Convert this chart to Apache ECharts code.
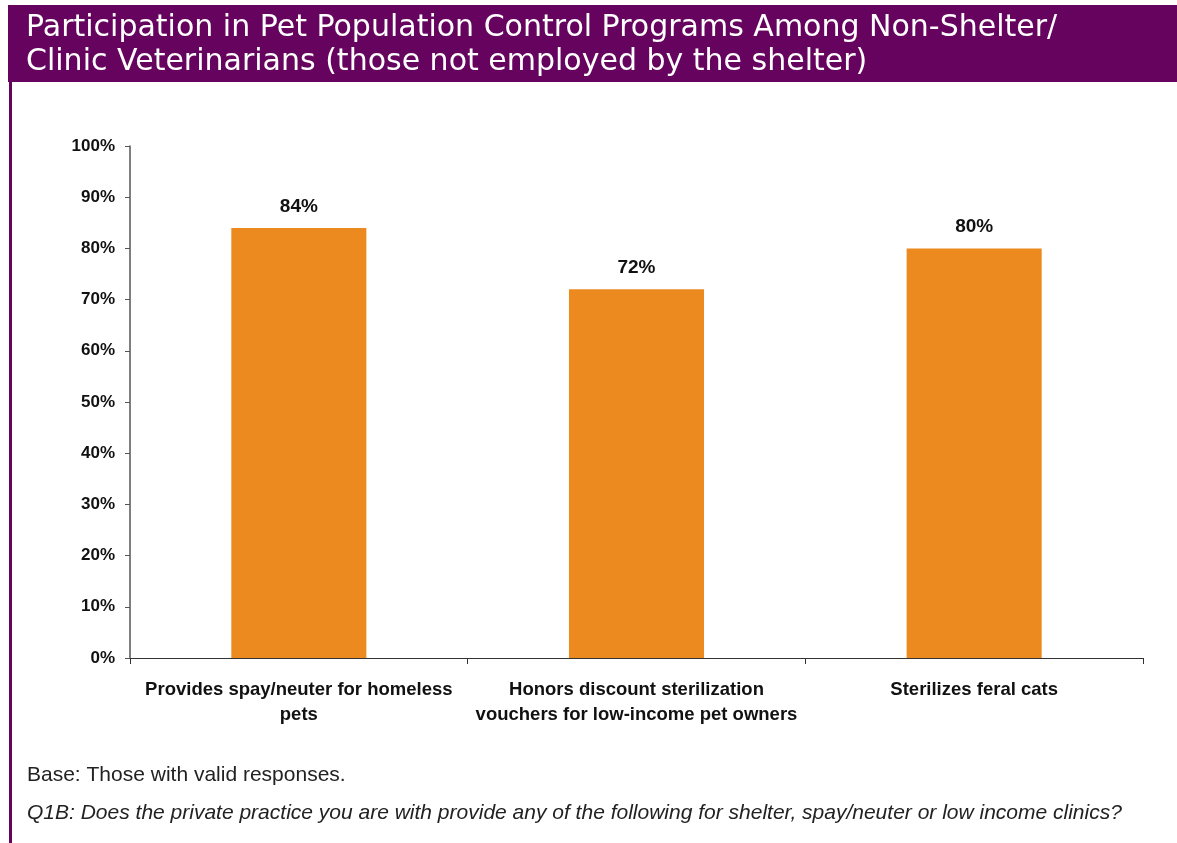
<!DOCTYPE html>
<html>
<head>
<meta charset="utf-8">
<script src="https://cdn.jsdelivr.net/npm/echarts@6/dist/echarts.min.js"></script>
<style>
  html, body { margin: 0; padding: 0; background: #fff; }
  #chart { width: 1177px; height: 843px; }
</style>
</head>
<body>
<div id="chart"></div>
<script>
// Survey categories and participation shares (percent)
const categories = [
  'Provides spay/neuter for homeless\npets',
  'Honors discount sterilization\nvouchers for low-income pet owners',
  'Sterilizes feral cats'
];
const values = [84, 72, 80];
const yTicks = [0, 10, 20, 30, 40, 50, 60, 70, 80, 90, 100];

const titleLines = [
  'Participation in Pet Population Control Programs Among Non-Shelter/',
  'Clinic Veterinarians (those not employed by the shelter)'
];
const baseNote = 'Base: Those with valid responses.';
const questionNote = 'Q1B: Does the private practice you are with provide any of the following for shelter, spay/neuter or low income clinics?';

const PURPLE = '#65035E';
const ARIAL = '"Liberation Sans", Arial, sans-serif';

const chart = echarts.init(document.getElementById('chart'), null, { renderer: 'canvas' });

chart.setOption({
  backgroundColor: '#ffffff',
  animation: false,
  graphic: [
    // header band and left rule
    { type: 'rect', shape: { x: 8, y: 5, width: 1169, height: 77 }, style: { fill: PURPLE } },
    { type: 'rect', shape: { x: 9, y: 82, width: 3, height: 761 }, style: { fill: PURPLE } },
    { type: 'text', style: {
        x: 26, y: 28, text: titleLines[0], fill: '#ffffff', verticalAlign: 'middle',
        font: '30px "DejaVu Sans", sans-serif' } },
    { type: 'text', style: {
        x: 26, y: 62, text: titleLines[1], fill: '#ffffff', verticalAlign: 'middle',
        font: '30px "DejaVu Sans", sans-serif' } },
    // footnotes
    { type: 'text', style: {
        x: 27, y: 775, text: baseNote, fill: '#222', verticalAlign: 'middle',
        font: '21px ' + ARIAL } },
    { type: 'text', style: {
        x: 27, y: 813, text: questionNote, fill: '#222', verticalAlign: 'middle',
        font: 'italic 21px ' + ARIAL } }
  ],
  grid: { left: 130, right: 34, top: 146, bottom: 185 },
  xAxis: {
    type: 'category',
    data: categories,
    axisLine: { lineStyle: { color: '#333', width: 1.2 } },
    axisTick: { show: true, length: 6, lineStyle: { color: '#333' } },
    axisLabel: {
      color: '#111', fontWeight: 'bold', fontSize: 18.5, fontFamily: ARIAL,
      margin: 19, lineHeight: 25, interval: 0
    }
  },
  yAxis: {
    type: 'value',
    min: 0, max: 100, interval: 10,
    axisLine: { show: true, lineStyle: { color: '#555', width: 1.5 } },
    axisTick: { show: true, length: 5, lineStyle: { color: '#555' } },
    splitLine: { show: false },
    axisLabel: {
      color: '#111', fontWeight: 'bold', fontSize: 17, fontFamily: ARIAL,
      margin: 15,
      formatter: v => yTicks.includes(v) ? v + '%' : ''
    }
  },
  series: [{
    type: 'bar',
    data: values,
    barWidth: '40%',
    itemStyle: { color: '#EC8A1F' },
    label: {
      show: true, position: 'top', distance: 12,
      color: '#111', fontWeight: 'bold', fontSize: 19, fontFamily: ARIAL,
      formatter: p => p.value + '%'
    }
  }]
});
</script>
</body>
</html>
